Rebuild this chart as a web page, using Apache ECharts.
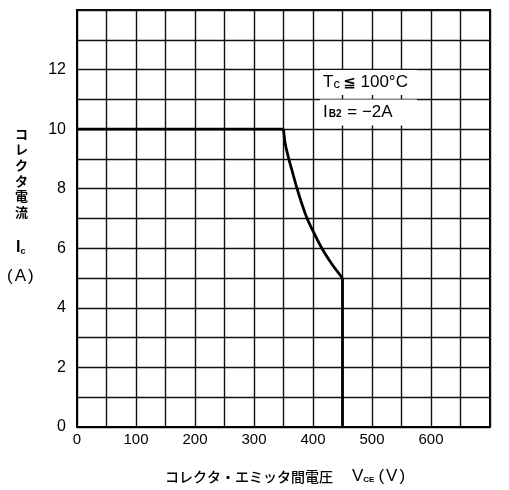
<!DOCTYPE html>
<html>
<head>
<meta charset="utf-8">
<script src="https://cdn.jsdelivr.net/npm/echarts@6/dist/echarts.min.js"></script>
<style>
html,body{margin:0;padding:0;background:#fff;}
#c{width:509px;height:490px;}
</style>
</head>
<body>
<div id="c"></div>
<script>
// Data (safe operating area boundary)
const flatV   = [0, 350];
const flatI   = [10, 10];
const curveV  = [350, 353, 359, 366, 373, 381, 390, 402, 415, 431, 450];
const curveI  = [10, 9.5, 9, 8.5, 8, 7.5, 7, 6.5, 6, 5.5, 5];
const dropV   = [450, 450];
const dropI   = [5, 0];
const xTickLabels = [0, 100, 200, 300, 400, 500, 600];
const yTickLabels = [0, 2, 4, 6, 8, 10, 12];

const chart = echarts.init(document.getElementById('c'));
const font = 'Liberation Sans, DejaVu Sans, sans-serif';
const jp = 'Noto Sans CJK JP, sans-serif';
const pair = (xs, ys) => xs.map((v, i) => [v, ys[i]]);
const lineStyle = {color: '#000', width: 2.8};

chart.setOption({
  animation: false,
  backgroundColor: '#fff',
  grid: {left: 77, right: 19, top: 10, bottom: 63, show: true, borderColor: '#000', borderWidth: 2, backgroundColor: 'transparent'},
  xAxis: {
    type: 'value', min: 0, max: 700, interval: 50,
    axisLine: {show: true, lineStyle: {color: '#000', width: 2}},
    axisTick: {show: false},
    splitLine: {show: true, lineStyle: {color: '#111', width: 1.4}},
    axisLabel: {
      margin: 5, color: '#000', fontSize: 15, fontFamily: font,
      formatter: v => xTickLabels.indexOf(v) >= 0 ? String(v) : ''
    }
  },
  yAxis: {
    type: 'value', min: 0, max: 14, interval: 1,
    axisLine: {show: true, lineStyle: {color: '#000', width: 2}},
    axisTick: {show: false},
    splitLine: {show: true, lineStyle: {color: '#111', width: 1.4}},
    axisLabel: {
      margin: 11, color: '#000', fontSize: 16, fontFamily: font,
      formatter: v => yTickLabels.indexOf(v) >= 0 ? String(v) : ''
    }
  },
  series: [
    {type: 'line', data: pair(flatV, flatI), showSymbol: false, lineStyle: lineStyle, z: 5},
    {type: 'line', data: pair(curveV, curveI), showSymbol: false, smooth: 0.3, lineStyle: lineStyle, z: 5},
    {type: 'line', data: pair(dropV, dropI), showSymbol: false, lineStyle: lineStyle, z: 5}
  ],
  graphic: [
    {type: 'text', left: 15, top: 126, style: {text: 'コ\nレ\nク\nタ\n電\n流', font: 'bold 13px ' + jp, fill: '#000', lineHeight: 15.6, align: 'left'}},
    {type: 'text', left: 16, top: 240, style: {
      text: '{a|I}{b|c}', fill: '#000',
      rich: {a: {fontSize: 16, fontFamily: font, fontWeight: 'bold', fill: '#000'}, b: {fontSize: 9, fontFamily: font, fontWeight: 'bold', fill: '#000', padding: [7, 0, 0, 0]}}
    }},
    {type: 'text', left: 7, top: 268, style: {
      text: '{p|(}{a|A}{p|)}', fill: '#000',
      rich: {p: {fontSize: 17, fontFamily: font, fill: '#000'}, a: {fontSize: 17, fontFamily: font, fill: '#000', padding: [0, 2, 0, 2]}}
    }},
    {type: 'text', left: 165, top: 470, style: {text: 'コレクタ・エミッタ間電圧', font: '500 14px ' + jp, fill: '#000'}},
    {type: 'text', left: 352, top: 468, style: {
      text: '{a|V}{b|CE}{p|(}{a|V}{p|)}', fill: '#000',
      rich: {
        a: {fontSize: 17, fontFamily: font, fill: '#000'},
        b: {fontSize: 8, fontFamily: font, fontWeight: 'bold', fill: '#000', padding: [6, 2, 0, 0]},
        p: {fontSize: 17, fontFamily: font, fill: '#000', padding: [0, 2, 0, 2]}
      }
    }},
    {type: 'text', left: 320, top: 70, z: 10, style: {
      text: '{a|T}{b|c} {s|≦}{a| 100°C}', backgroundColor: '#fff', padding: [4, 4, 4, 3], width: 90,
      rich: {a: {fontSize: 17, fontFamily: font, fill: '#000'}, b: {fontSize: 13, fontFamily: font, fill: '#000', padding: [3, 0, 0, 0]}, s: {fontSize: 15, fontFamily: font, fontWeight: 'bold', fill: '#000'}}
    }},
    {type: 'text', left: 320, top: 99.5, z: 10, style: {
      text: '{a|I}{b|B2}{a| = −2A}', backgroundColor: '#fff', padding: [4, 4, 5, 3], width: 90,
      rich: {a: {fontSize: 17, fontFamily: font, fill: '#000'}, b: {fontSize: 10, fontFamily: font, fontWeight: 'bold', fill: '#000', padding: [4, 1, 0, 1]}}
    }}
  ]
});
</script>
</body>
</html>
